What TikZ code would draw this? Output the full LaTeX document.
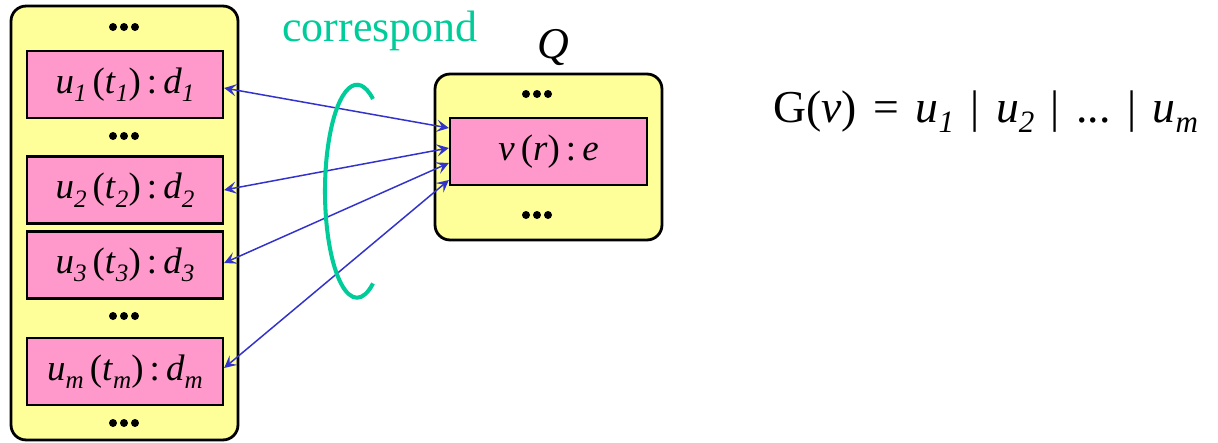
\documentclass[tikz,border=0pt]{standalone}
\usepackage{fontspec}
\setmainfont{Liberation Serif}[
  ItalicFont=Liberation Serif Italic,
  BoldFont=Liberation Serif Bold]
\newfontfamily\slotfont{Liberation Serif}
\usetikzlibrary{arrows.meta,calc}
\definecolor{slotyellow}{HTML}{FFFF99}
\definecolor{slotpink}{HTML}{FF99CC}
\definecolor{linkblue}{HTML}{3333CC}
\definecolor{corrgreen}{HTML}{00CC99}
\newcommand{\sbx}[1]{\raisebox{-0.5ex}{\scalebox{0.68}{\textit{#1}}}}
\newcommand{\ent}[4]{\textit{#1}\sbx{#2}\,(\textit{#3}\sbx{#2})\,:\,\textit{#4}\sbx{#2}}
\newcommand{\gsp}{\hspace{0.36em}}
\tikzset{
  grpbox/.style={
    draw=black, fill=slotyellow, line width=1.6pt,
    rounded corners=0.3cm, inner sep=0pt
  },
  entbox/.style={
    draw=black, fill=slotpink, line width=1.3pt,
    minimum width=3.92cm, minimum height=1.34cm,
    inner sep=0pt, font=\slotfont\fontsize{21}{25}\selectfont
  },
  link/.style={
    draw=linkblue, line width=0.85pt,
    {Stealth[length=7pt,width=7pt,inset=3pt]}-{Stealth[length=7pt,width=7pt,inset=3pt]}
  },
  corr/.style={draw=corrgreen, line width=2.3pt}
}

\begin{document}
\begin{tikzpicture}[x=0.02cm, y=-0.02cm]
  \useasboundingbox (0,0) rectangle (1218,443);

  % left group of entries
  \node[grpbox, minimum width=4.54cm, minimum height=8.68cm] (grpU) at (124.5,223) {};
  \node[entbox] (u1) at (125,84.5)  {\ent{u}{1}{t}{d}};
  \node[entbox] (u2) at (125,190)   {\ent{u}{2}{t}{d}};
  \node[entbox] (u3) at (125,265)   {\ent{u}{3}{t}{d}};
  \node[entbox] (um) at (125,371.5) {\ent{u}{m}{t}{d}};

  % query group
  \node[grpbox, minimum width=4.54cm, minimum height=3.32cm] (grpQ) at (548.5,157) {};
  \node[entbox, minimum width=3.94cm] (v) at (548.5,151.5)
    {\textit{v}\,(\textit{r})\,:\,\textit{e}};
  \node[font=\slotfont\fontsize{25}{30}\selectfont\itshape] (qlab) at (553,48) {Q};

  \node[font=\slotfont\fontsize{25}{30}\selectfont, text=corrgreen] (corrlab) at (380,31) {correspond};

  % dots
  \foreach \px/\py in {124/27, 124/136, 124/316, 124/423, 537/94, 537/215}
    \foreach \dx in {-11,0,11}
      \fill (\px+\dx,\py) circle (4);

  % links
  \draw[link] ($(u1.east)+(0,3.5)$)  -- ($(v.west)+(0,-23.5)$);
  \draw[link] (u2.east)              -- ($(v.west)+(0,-3.5)$);
  \draw[link] ($(u3.east)+(0,-2)$)   -- ($(v.west)+(0,11.5)$);
  \draw[link] ($(um.east)+(0,-3.5)$) -- ($(v.west)+(0,28.5)$);

  \draw[corr] (373,99) arc[start angle=-60, end angle=-300, x radius=32, y radius=106.5];

  \node[anchor=base west, inner sep=0pt, font=\slotfont\fontsize{26}{30}\selectfont] (gdef) at (773,122)
    {G(\textit{v})\gsp=\gsp\textit{u}\sbx{1}\gsp|\gsp\textit{u}\sbx{2}\gsp|\gsp...\gsp|\gsp\textit{u}\sbx{m}};
\end{tikzpicture}
\end{document}
